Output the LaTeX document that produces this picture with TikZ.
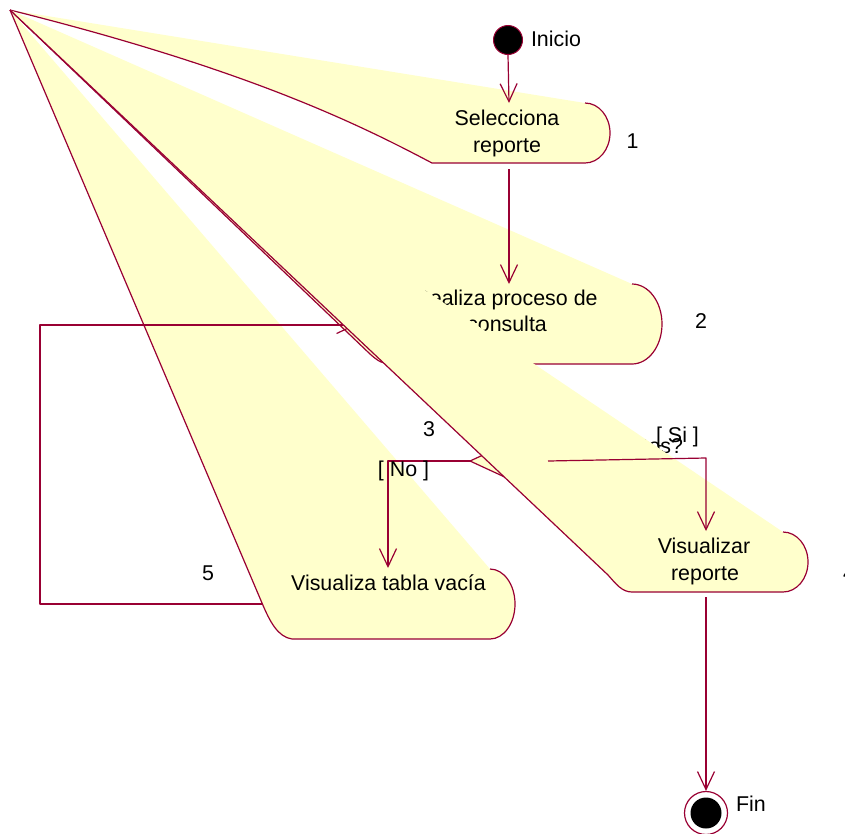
\documentclass[tikz,border=0pt]{standalone}
\usepackage{fontspec}
\setmainfont{Liberation Sans}
\usetikzlibrary{arrows.meta}
\definecolor{rosered}{RGB}{153,0,51}
\definecolor{roseyellow}{RGB}{255,255,204}
\tikzset{
  edgeline/.style={draw=rosered, line width=1.2pt, line join=round},
  flow/.style={edgeline, -{Straight Barb[length=18pt,width=17pt,line width=1.2pt]}},
  yfill/.style={fill=roseyellow, draw=none},
  lbl/.style={inner sep=0pt, outer sep=0pt, font=\fontsize{21.4}{26}\selectfont, text=black},
}
\begin{document}
\begin{tikzpicture}[x=1pt,y=-1pt]
\useasboundingbox (0,0) rectangle (845,833);
\coordinate (apex) at (10,10);

% ---- activity 5 : Visualiza tabla vacia
\fill[yfill] (apex) -- (490,569) arc[start angle=-90,end angle=90,x radius=25,y radius=35]
  -- (292,639) .. controls (278,637) and (270,622) .. (262,603) -- cycle;
\draw[edgeline] (apex) -- (262,603) .. controls (270,622) and (278,637) .. (292,639)
  -- (490,639) arc[start angle=90,end angle=-90,x radius=25,y radius=35];
\node[lbl, anchor=base] (t5) at (388.5,590) {Visualiza tabla vacía};
\coordinate (a5w) at (262,604);

% ---- activity 1 : Selecciona reporte
\fill[yfill] (apex) -- (585,103) arc[start angle=-90,end angle=90,x radius=25,y radius=30]
  -- (432,163) .. controls (360,125) and (250,70) .. (apex) -- cycle;
\draw[edgeline] (apex) .. controls (250,70) and (360,125) .. (432,163)
  -- (585,163) arc[start angle=90,end angle=-90,x radius=25,y radius=30];
\node[lbl, anchor=base] (t1a) at (507,125.7) {Selecciona};
\node[lbl, anchor=base] (t1b) at (507,152.5) {reporte};
\coordinate (a1n) at (509,103);
\coordinate (a1s) at (509,169);

% ---- activity 2 : Realiza proceso de consulta
\fill[yfill] (apex) -- (632,284) arc[start angle=-90,end angle=90,x radius=30,y radius=40]
  -- (392,364) .. controls (382,364) and (378,361) .. (370,354) -- cycle;
\draw[edgeline] (apex) -- (370,354) .. controls (378,361) and (382,364) .. (392,364)
  -- (632,364) arc[start angle=90,end angle=-90,x radius=30,y radius=40];
\node[lbl, anchor=base] (t2a) at (506,305.7) {Realiza proceso de};
\node[lbl, anchor=base] (t2b) at (507,331.7) {consulta};
\coordinate (a2n) at (509,284);
\coordinate (a2w) at (356,325);

% ---- loop transition 5 -> 2
\coordinate (lp1) at (40,604);
\coordinate (lp2) at (40,325);
\draw[flow] (a5w) -- (lp1) -- (lp2) -- (a2w);

% ---- decision 3
\coordinate (dw) at (470,461);
\coordinate (dn) at (509,443);
\coordinate (de) at (548,461);
\coordinate (ds) at (509,479);
\filldraw[fill=roseyellow, edgeline] (dw) -- (dn) -- (de) -- (ds) -- cycle;
\node[lbl, anchor=base east] (tdec) at (683,453.3) {datos?};

% ---- activity 4 : Visualizar reporte
\fill[yfill] (apex) -- (783,532) arc[start angle=-90,end angle=90,x radius=25,y radius=30]
  -- (632,592) .. controls (622,592) and (616,584) .. (608,575) -- cycle;
\draw[edgeline] (apex) -- (608,575) .. controls (616,584) and (622,592) .. (632,592)
  -- (783,592) arc[start angle=90,end angle=-90,x radius=25,y radius=30];
\node[lbl, anchor=base] (t4a) at (704,553) {Visualizar};
\node[lbl, anchor=base] (t4b) at (705,580) {reporte};
\coordinate (a4n) at (706,531);
\coordinate (a4s) at (706,597);

% ---- numbers
\node[lbl, anchor=base] (n1) at (632.5,148) {1};
\node[lbl, anchor=base] (n2) at (701,328) {2};
\node[lbl, anchor=base] (n3) at (429,436) {3};
\node[lbl, anchor=base] (n4) at (849,580) {4};
\node[lbl, anchor=base] (n5) at (208,580.7) {5};

% ---- decision branches
\coordinate (si1) at (706,458);
\draw[flow] (de) -- (si1) -- (a4n);
\node[lbl, anchor=base] (tsi) at (677.5,442.7) {[ Si ]};
\coordinate (no1) at (388,461);
\coordinate (a5n) at (388,568);
\draw[flow] (dw) -- (no1) -- (a5n);
\node[lbl, anchor=base] (tno) at (403.5,476) {[ No ]};

% ---- initial state
\node[circle, fill=black, draw=rosered, line width=1pt, minimum size=29pt, inner sep=0pt] (ini) at (508,40) {};
\node[lbl, anchor=base west] (tini) at (531,46.7) {Inicio};

% ---- final state
\node[circle, draw=rosered, line width=1.2pt, minimum size=43pt, inner sep=0pt] (fin) at (706,813) {};
\node[circle, fill=black, minimum size=31pt, inner sep=0pt] (fincore) at (706,813) {};
\node[lbl, anchor=base west] (tfin) at (736,811.7) {Fin};

% ---- straight transitions
\draw[flow] (ini.south) -- (a1n);
\draw[flow] (a1s) -- (a2n);
\draw[flow] (a4s) -- (fin.north);
\end{tikzpicture}
\end{document}
